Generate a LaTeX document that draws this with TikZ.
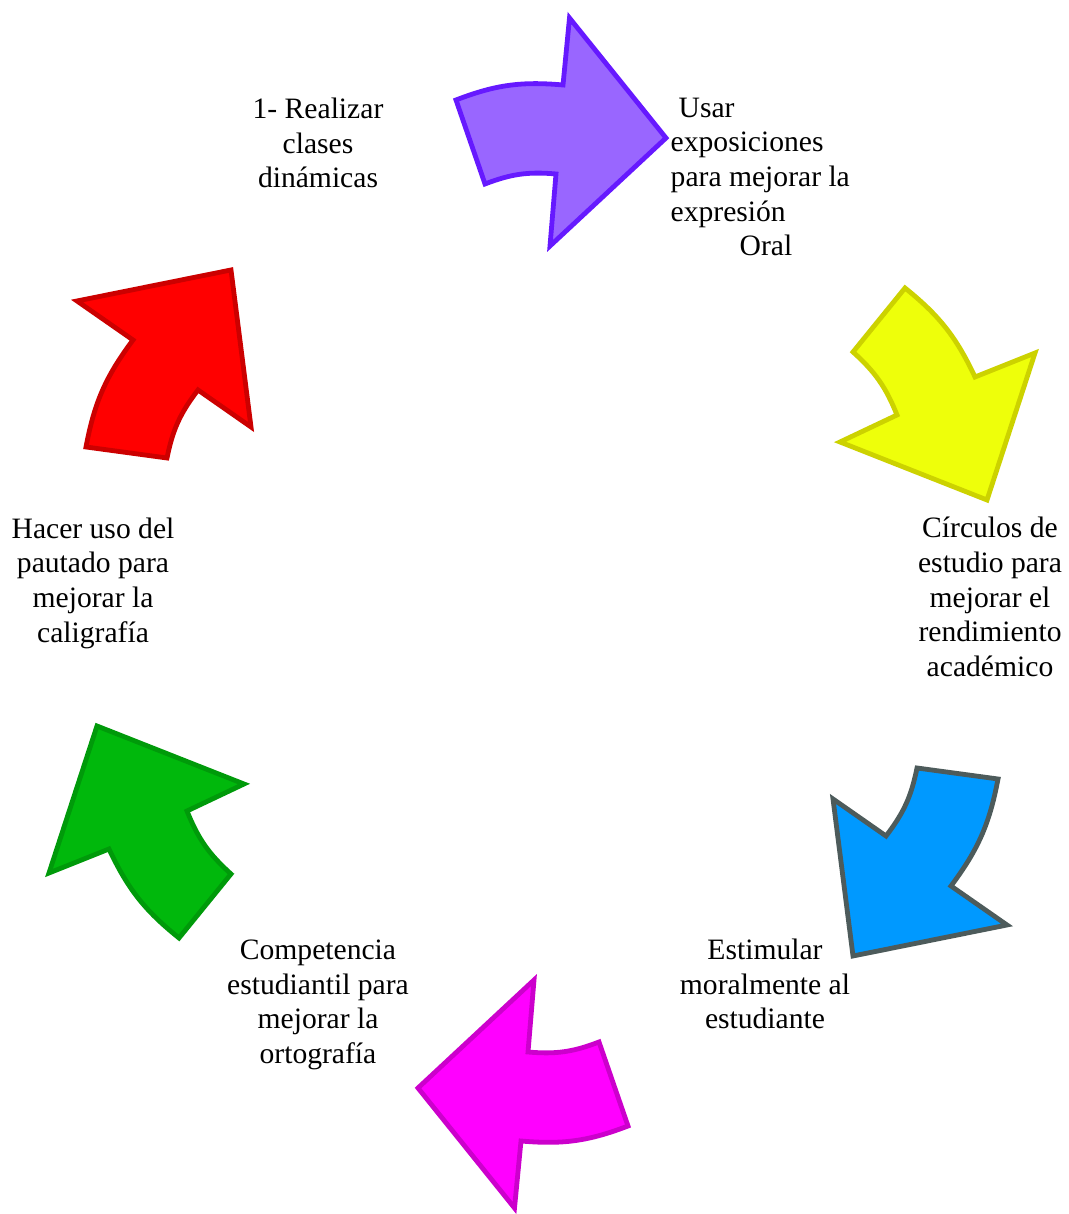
\documentclass[tikz,border=0pt]{standalone}
\usepackage{fontspec}
\setmainfont{Liberation Serif}
\usetikzlibrary{positioning}

\definecolor{PurpleFill}{HTML}{9966FF}
\definecolor{PurpleLine}{HTML}{6619FF}
\definecolor{YellowFill}{HTML}{EEFF0A}
\definecolor{YellowLine}{HTML}{CCD200}
\definecolor{BlueFill}{HTML}{0099FF}
\definecolor{BlueLine}{HTML}{4D5B5B}
\definecolor{MagentaFill}{HTML}{FF00FF}
\definecolor{MagentaLine}{HTML}{CC00CC}
\definecolor{GreenFill}{HTML}{00B80C}
\definecolor{GreenLine}{HTML}{009A0A}
\definecolor{RedFill}{HTML}{FF0000}
\definecolor{RedLine}{HTML}{CC0000}

\begin{document}
\begin{tikzpicture}[x=1pt, y=1pt]
		\tikzstyle{Label}	= [inner sep=0pt, font=\fontsize{29.6}{34.7}\selectfont]
		\tikzstyle{Arrow}	= [line width=4.8pt, line join=miter]
		\tikzstyle{Purple}	= [fill=PurpleFill, draw=PurpleLine]
		\tikzstyle{Yellow}	= [fill=YellowFill, draw=YellowLine]
		\tikzstyle{Blue}	= [fill=BlueFill, draw=BlueLine]
		\tikzstyle{Magenta}	= [fill=MagentaFill, draw=MagentaLine]
		\tikzstyle{Green}	= [fill=GreenFill, draw=GreenLine]
		\tikzstyle{Red}		= [fill=RedFill, draw=RedLine]

		\useasboundingbox (0,0) rectangle (1068,1214);

		\filldraw [Arrow][Purple] (456,1114) to[bend left=13] (563,1129) -- (569.5,1196) -- (666,1076)
			-- (550,968) -- (556,1040) to[bend right=13] (485,1030) -- cycle;
		\filldraw [Arrow][Yellow] (905,926) to[bend left=13] (975,837) -- (1035,861) -- (987,714)
			-- (840,772) -- (897,799) to[bend right=13] (853,862) -- cycle;
		\filldraw [Arrow][Blue] (998,435) to[bend left=13] (951,328) -- (1007,289) -- (853,258)
			-- (833,415) -- (886,378) to[bend right=13] (917,446) -- cycle;
		\filldraw [Arrow][Magenta] (628,88) to[bend left=13] (521,73) -- (514.5,6) -- (418,126)
			-- (534,234) -- (528,162) to[bend right=13] (599,172) -- cycle;
		\filldraw [Arrow][Green] (179,276) to[bend left=13] (109,365) -- (49,341) -- (97,488)
			-- (244,430) -- (187,403) to[bend right=13] (231,340) -- cycle;
		\filldraw [Arrow][Red] (86,767) to[bend left=13] (133,874) -- (77,913) -- (231,944)
			-- (251,787) -- (198,824) to[bend right=13] (167,756) -- cycle;

		\node (clases) at (318,1071) [Label, align=center] {1- Realizar\\clases\\dinámicas};
		\node (oral) at (670.5,1037) [Label, align=left, anchor=west] {\hspace*{8pt}Usar\\exposiciones\\para mejorar la\\expresión\\\hspace*{69pt}Oral};
		\node (circulos) at (990,617) [Label, align=center] {Círculos de\\estudio para\\mejorar el\\rendimiento\\académico};
		\node (estimular) at (765,230) [Label, align=center] {Estimular\\moralmente al\\estudiante};
		\node (ortografia) at (318,209) [Label, align=center] {Competencia\\estudiantil para\\mejorar la\\ortografía};
		\node (caligrafia) at (93,631) [Label, align=center] {Hacer uso del\\pautado para\\mejorar la\\caligrafía};
\end{tikzpicture}
\end{document}
